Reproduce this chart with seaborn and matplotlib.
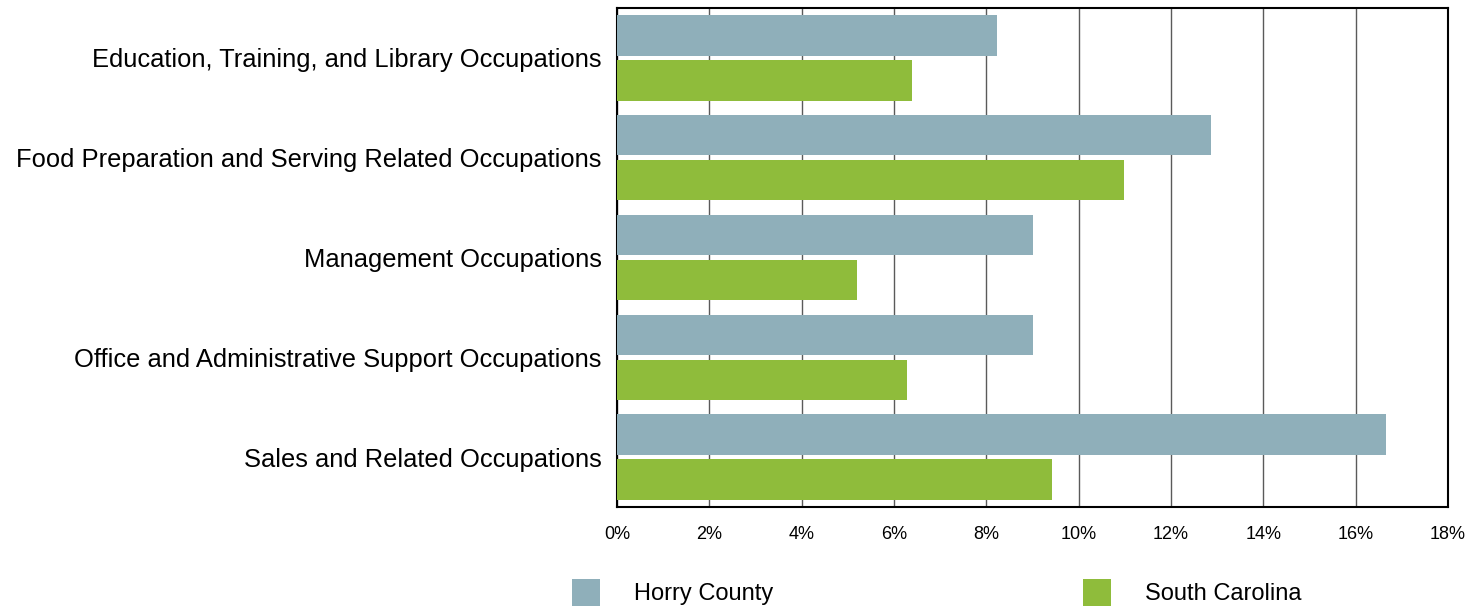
import seaborn as sns
import matplotlib.pyplot as plt
import pandas as pd
import numpy as np

occupations = [
    "Education, Training, and Library Occupations",
    "Food Preparation and Serving Related Occupations",
    "Management Occupations",
    "Office and Administrative Support Occupations",
    "Sales and Related Occupations",
]
horry = [8.23, 12.86, 9.02, 9.01, 16.66]
south_carolina = [6.38, 10.98, 5.20, 6.28, 9.42]
regions = ["Horry County", "South Carolina"]
colors = ["#8FAFBA", "#8FBC3B"]

df = pd.DataFrame({
    "occupation": occupations * 2,
    "share": horry + south_carolina,
    "region": [regions[0]] * len(occupations) + [regions[1]] * len(occupations),
})

sns.set_style("white")
plt.rcParams["font.family"] = ["Liberation Sans", "DejaVu Sans"]
plt.rcParams["text.color"] = "black"
plt.rcParams["xtick.color"] = "black"
plt.rcParams["ytick.color"] = "black"

fig = plt.figure(figsize=(14.81, 6.08), dpi=100)
ax = fig.add_axes([617 / 1481, 1 - 507 / 608, (1448 - 617) / 1481, (507 - 8) / 608])

sns.barplot(data=df, y="occupation", x="share", hue="region", palette=colors,
            orient="h", width=0.9, gap=0.1, saturation=1, linewidth=0,
            ax=ax, zorder=3)

handles, labels = ax.get_legend_handles_labels()
ax.get_legend().remove()

ax.set_xlim(0, 18)
ax.set_xticks(np.arange(0, 19, 2))
ax.set_xticklabels([f"{t}%" for t in range(0, 19, 2)], fontsize=13)
ax.tick_params(axis="x", length=0, pad=14)
ax.tick_params(axis="y", length=0, pad=11, labelsize=18.4)
ax.set_xlabel("")
ax.set_ylabel("")
ax.grid(axis="x", color="#5a5a5a", linewidth=1, zorder=0)
ax.grid(axis="y", visible=False)
for s in ax.spines.values():
    s.set_visible(True)
    s.set_color("black")
    s.set_linewidth(1.5)

fig.legend(handles, labels, loc="center", bbox_to_anchor=(0.6325, 0.026), ncol=2,
           frameon=False, fontsize=17, handlelength=1.2, handleheight=1.4,
           handletextpad=1.45, columnspacing=13.1)

fig.savefig("out.png", dpi=100)
